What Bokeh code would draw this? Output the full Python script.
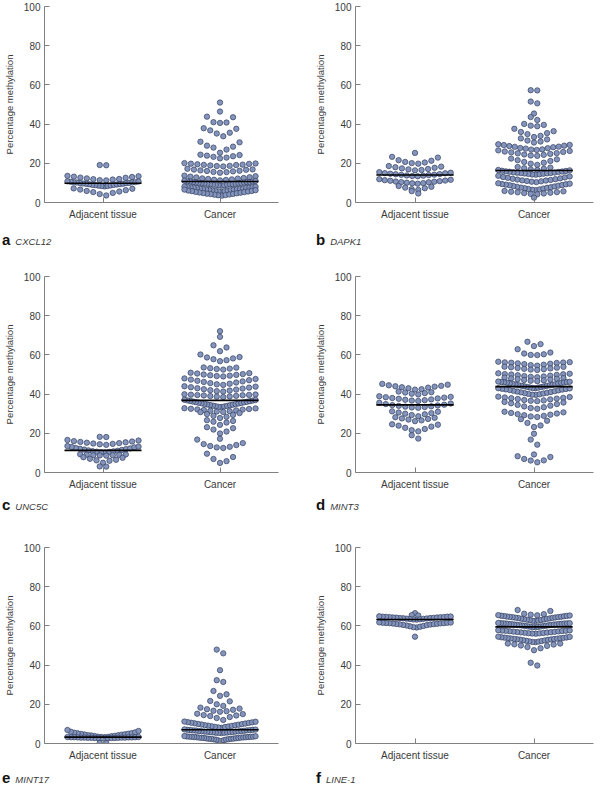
import numpy as np
from bokeh.plotting import figure
from bokeh.models import Range1d, FixedTicker, Div
from bokeh.layouts import column, row
from bokeh.embed import file_html
from bokeh.resources import INLINE

# ---------------- data (percentage methylation, one list per swarm row) ----------------
CATEGORIES = ["Adjacent tissue", "Cancer"]
GENES = ["CXCL12", "DAPK1", "UNC5C", "MINT3", "MINT17", "LINE-1"]
LETTERS = ["a", "b", "c", "d", "e", "f"]
Y_TICKS = [0, 20, 40, 60, 80, 100]
Y_LABEL = "Percentage methylation"

CXCL12_ADJ = [
    [19.0, 19.1],
    [11.3, 11.4, 11.7, 11.9, 12.0, 12.3, 12.6, 12.7, 13.0, 13.2, 13.4, 13.6],
    [8.2, 8.4, 8.4, 8.6, 8.7, 8.9, 9.0, 9.0, 9.2, 9.3, 9.4, 9.6, 9.6, 9.7, 9.9, 10.0,
     10.0, 10.2, 10.3, 10.3, 10.4, 10.6, 10.7, 10.8],
    [3.6, 4.3, 4.9, 5.3, 5.6, 5.9, 6.3, 6.6, 7.0, 7.2],
]
CXCL12_CAN = [
    [51.0], [46.4],
    [40.6, 40.8, 41.0, 43.5, 43.8],
    [33.8, 35.2, 35.6, 36.8, 37.6, 37.9],
    [25.4, 27.0, 28.0, 28.5, 29.0, 30.7, 31.0],
    [22.5, 22.9, 23.3, 23.6, 23.9, 24.2, 24.4],
    [18.4, 18.6, 18.7, 18.9, 19.1, 19.2, 19.3, 19.5, 19.7, 19.8, 19.9, 20.1],
    [15.2, 15.5, 15.6, 15.9, 16.1, 16.2, 16.4, 16.7, 16.8, 16.9, 17.2],
    [11.3, 11.5, 11.6, 11.8, 12.0, 12.2, 12.3, 12.5, 12.8, 12.9, 13.2, 13.4, 13.7],
    [8.6, 8.8, 8.8, 9.0, 9.1, 9.1, 9.3, 9.3, 9.4, 9.6, 9.6, 9.7, 9.9, 9.9, 10.0, 10.1,
     10.2, 10.2, 10.4, 10.4, 10.5, 10.7, 10.7, 10.8, 11.0, 11.1],
    [5.5, 5.7, 5.8, 5.9, 6.1, 6.2, 6.3, 6.4, 6.6, 6.7, 6.8, 6.9, 7.0, 7.1, 7.2, 7.4,
     7.5, 7.6, 7.6, 7.7, 7.8, 7.9, 8.0, 8.1],
    [3.5, 3.7, 3.8, 4.0, 4.1, 4.3, 4.4, 4.5, 4.7, 4.8, 5.0, 5.1, 5.3, 5.4, 5.6, 5.8,
     5.9, 6.1, 6.3, 6.6],
]

DAPK1_ADJ = [
    [25.3],
    [19.8, 20.1, 20.4, 20.7, 21.3, 21.6, 22.9, 23.3],
    [16.4, 16.6, 16.9, 17.1, 17.4, 17.7, 18.0, 18.3, 18.6],
    [13.4, 13.5, 13.7, 13.8, 14.0, 14.1, 14.2, 14.4, 14.5, 14.7, 14.9, 15.0, 15.2, 15.5],
    [9.6, 9.8, 9.9, 10.1, 10.3, 10.4, 10.6, 10.7, 10.9, 11.1, 11.2, 11.4, 11.6, 11.9],
    [6.4, 6.8, 7.3, 7.6, 8.0, 8.4],
    [4.6, 5.8],
]
DAPK1_CAN = [
    [57.2, 57.3],
    [50.6, 51.5],
    [45.4],
    [42.1, 43.6],
    [38.9, 39.2, 39.6, 40.1],
    [33.4, 34.0, 34.9, 35.4, 36.0, 36.4, 37.6],
    [30.6, 31.1, 31.6, 32.2, 32.7],
    [26.8, 27.0, 27.1, 27.5, 27.7, 27.8, 28.2, 28.4, 28.5, 28.8, 29.0, 29.3, 29.4, 29.7],
    [23.8, 24.0, 24.3, 24.5, 24.8, 25.1, 25.2, 25.6, 25.8, 26.0, 26.3, 26.6],
    [19.2, 19.8, 20.3, 20.7, 21.2, 21.6, 22.0, 22.4],
    [16.6, 16.9, 17.2, 17.5, 17.8, 18.1],
    [14.2, 14.3, 14.4, 14.6, 14.7, 14.8, 14.9, 15.0, 15.1, 15.2, 15.3, 15.4, 15.6, 15.7,
     15.8, 15.9, 16.1, 16.2, 16.4, 16.6],
    [10.4, 10.6, 10.8, 11.0, 11.2, 11.3, 11.5, 11.7, 11.9, 12.1, 12.3, 12.6, 12.8, 13.0,
     13.3, 13.6],
    [6.3, 6.5, 6.7, 6.9, 7.1, 7.3, 7.5, 7.6, 7.8, 8.0, 8.2, 8.4, 8.6, 8.8, 8.9, 9.1, 9.3,
     9.4, 9.6, 9.8],
    [4.2, 4.4, 4.6, 4.8, 5.0, 5.2, 5.3, 5.5, 5.7, 5.9],
    [2.5],
]

UNC5C_ADJ = [
    [18.1, 18.2],
    [14.1, 14.4, 14.6, 14.8, 15.0, 15.2, 15.4, 15.6, 15.8, 16.0, 16.3, 16.6],
    [10.2, 10.3, 10.5, 10.6, 10.8, 10.9, 11.1, 11.3, 11.5, 11.7, 11.9, 12.1, 12.3, 12.5,
     12.8, 13.0, 13.2, 13.5],
    [8.6, 8.7, 8.8, 8.8, 9.0, 9.1, 9.2, 9.3],
    [5.0, 6.0, 6.2, 6.5, 7.0, 7.5, 7.8],
    [3.0, 3.1],
]
UNC5C_CAN = [
    [72.1], [69.2],
    [61.9, 63.8, 64.9],
    [56.8, 57.3, 57.8, 58.2, 58.7, 58.9, 60.2],
    [52.5, 52.8, 53.0, 53.2, 53.5, 53.6],
    [49.0, 49.2, 49.4, 49.6, 49.8, 50.0, 50.2, 50.5, 50.7, 50.9],
    [44.7, 45.0, 45.3, 45.6, 45.9, 46.2, 46.5, 46.8, 47.1, 47.4, 47.7, 48.0],
    [41.3, 41.5, 41.8, 42.0, 42.3, 42.5, 42.8, 43.0, 43.3, 43.5, 43.8, 44.0],
    [38.5, 38.7, 38.8, 39.0, 39.1, 39.3, 39.4, 39.5, 39.6, 39.7, 39.8, 39.9],
    [33.4, 33.5, 33.7, 33.8, 34.0, 34.1, 34.3, 34.4, 34.6, 34.7, 34.9, 35.0, 35.2, 35.3,
     35.5, 35.6, 35.8, 35.9, 36.1, 36.2, 36.4, 36.5, 36.7, 36.8, 37.0, 37.1],
    [30.9, 31.1, 31.3, 31.5, 31.7, 31.9, 32.1, 32.2, 32.4, 32.5, 32.7, 32.8],
    [27.8, 28.4, 28.9, 29.4, 29.8, 30.3, 30.8],
    [24.3, 25.5, 25.9, 26.3, 26.7],
    [19.9, 20.9, 21.9, 22.6, 23.1],
    [17.2],
    [12.5, 12.8, 13.1, 13.5, 14.0, 14.5, 15.0, 16.8],
    [4.9, 5.8, 6.9, 7.9, 9.6],
]

MINT3_ADJ = [
    [42.3, 42.5, 43.0, 43.3, 43.5, 43.8, 44.0, 44.2, 44.5, 44.8, 45.2],
    [39.8, 40.2, 40.5, 40.8, 41.0, 41.3],
    [36.5, 36.7, 36.9, 37.1, 37.3, 37.6, 37.8, 38.0, 38.2, 38.4, 38.6, 38.9],
    [33.0, 33.2, 33.4, 33.6, 33.8, 34.0, 34.2, 34.4, 34.6, 34.9, 35.2, 35.6],
    [28.7, 29.3, 29.7, 30.0, 30.3, 30.6, 31.0, 31.2],
    [26.2, 26.6, 27.0, 27.3, 27.6, 27.9, 28.2],
    [21.0, 21.6, 22.2, 22.8, 23.4, 23.9, 24.4, 24.6],
    [17.3, 19.0],
]
MINT3_CAN = [
    [64.5, 65.5, 66.7],
    [59.9, 60.0, 60.3, 60.7, 61.2, 62.9],
    [54.5, 54.8, 55.0, 55.3, 55.5, 55.7, 55.9, 56.0, 56.1, 56.2, 56.3, 56.5],
    [52.3, 52.5, 52.7, 52.9, 53.1, 53.3, 53.5, 53.7, 53.9, 54.0],
    [48.6, 48.8, 49.0, 49.2, 49.4, 49.6, 49.8, 50.0, 50.1, 50.2, 50.4, 50.6],
    [46.6, 46.8, 47.0, 47.2, 47.4, 47.6, 47.8, 48.0, 48.2, 48.4],
    [43.0, 43.1, 43.3, 43.4, 43.6, 43.7, 43.9, 44.0, 44.2, 44.3, 44.5, 44.6, 44.8, 44.9,
     45.1, 45.2, 45.4, 45.5, 45.7, 45.8, 45.9, 46.0, 46.1, 46.2, 46.3, 46.4],
    [39.6, 39.7, 39.9, 40.1, 40.3, 40.5, 40.7, 40.9, 41.1, 41.3, 41.5, 41.7, 41.9, 42.1,
     42.3, 42.4, 42.6, 42.7, 42.9, 43.0],
    [36.4, 36.6, 36.8, 37.0, 37.3, 37.5, 37.7, 37.9, 38.1, 38.3, 38.5, 38.7],
    [32.5, 32.9, 33.3, 33.7, 34.1, 34.5, 34.9, 35.3, 35.7, 36.0],
    [28.3, 28.6, 28.9, 29.2, 29.5, 29.8, 30.1, 30.4, 30.7, 31.0],
    [23.2, 24.0, 25.3, 26.4, 27.2],
    [19.8],
    [14.2, 16.8],
    [9.2],
    [5.2, 6.1, 6.2, 6.9, 7.9, 8.3],
]

MINT17_ADJ = [
    [3.2, 3.3, 3.4, 3.5, 3.7, 3.8, 3.9, 4.1, 4.2, 4.3, 4.5, 4.6, 4.7, 4.9, 5.0, 5.2, 5.3,
     5.5, 5.7, 6.0, 6.4, 6.9],
    [2.6, 2.6, 2.7, 2.7, 2.8, 2.8, 2.8, 2.9, 2.9, 2.9, 3.0, 3.0, 3.0, 3.0, 3.1, 3.1, 3.1,
     3.2, 3.2, 3.2, 3.3, 3.3],
    [0.2, 0.3],
]
MINT17_CAN = [
    [46.0, 47.9],
    [37.4],
    [31.4, 32.3],
    [24.3, 25.1, 26.8],
    [19.2, 20.0, 21.5, 21.7],
    [16.2, 16.5, 16.7, 17.2, 17.5, 17.8, 18.3],
    [12.0, 13.0, 13.5, 14.0, 14.3, 14.5, 15.0, 15.2],
    [8.0, 8.2, 8.4, 8.5, 8.7, 8.8, 9.0, 9.1, 9.3, 9.4, 9.6, 9.7, 9.9, 10.0, 10.2, 10.3,
     10.5, 10.6, 10.8, 10.9, 11.1, 11.2],
    [5.3, 5.4, 5.5, 5.5, 5.6, 5.7, 5.8, 5.8, 5.9, 6.0, 6.1, 6.1, 6.2, 6.3, 6.4, 6.4, 6.5,
     6.6, 6.7, 6.7, 6.8, 6.9, 7.0, 7.0, 7.1, 7.2],
    [1.0, 1.5, 1.7, 1.9, 2.0, 2.1, 2.2, 2.3, 2.4, 2.4, 2.5, 2.6, 2.7, 2.8, 2.8, 2.9, 3.0,
     3.0, 3.1, 3.2, 3.2, 3.3, 3.3, 3.4, 3.4, 3.5, 3.5, 3.6, 3.7, 3.8],
]

LINE1_ADJ = [
    [66.5],
    [65.3, 65.5],
    [63.2, 63.3, 63.4, 63.5, 63.6, 63.7, 63.8, 63.9, 64.0, 64.0, 64.1, 64.2, 64.3, 64.3,
     64.4, 64.5, 64.5, 64.6, 64.7, 64.7, 64.8, 64.9],
    [59.2, 59.4, 59.6, 59.8, 60.0, 60.2, 60.4, 60.5, 60.7, 60.8, 60.9, 61.0, 61.1, 61.2,
     61.3, 61.4, 61.4, 61.5, 61.6, 61.6, 61.7, 61.8],
    [54.5],
]
LINE1_CAN = [
    [65.4, 65.7, 66.0, 66.2, 67.6, 68.1],
    [62.5, 62.6, 62.7, 62.9, 63.0, 63.2, 63.3, 63.4, 63.6, 63.7, 63.8, 64.0, 64.1, 64.2,
     64.3, 64.4, 64.5, 64.6, 64.7, 64.8, 64.9, 65.0, 65.1, 65.2, 65.3, 65.5],
    [59.3, 59.4, 59.5, 59.6, 59.7, 59.8, 59.9, 60.0, 60.1, 60.2, 60.3, 60.4, 60.5, 60.6,
     60.7, 60.7, 60.8, 60.9, 61.0, 61.0, 61.1, 61.2, 61.2, 61.3, 61.3, 61.4, 61.4, 61.5],
    [56.0, 56.1, 56.2, 56.3, 56.4, 56.5, 56.6, 56.7, 56.8, 56.9, 57.0, 57.1, 57.2, 57.3,
     57.4, 57.5, 57.5, 57.6, 57.7, 57.8],
    [51.7, 51.8, 52.0, 52.1, 52.3, 52.4, 52.6, 52.7, 52.9, 53.0, 53.1, 53.2, 53.3, 53.4,
     53.5, 53.6, 53.7, 53.8, 53.9, 54.0, 54.1, 54.2, 54.4, 54.5],
    [47.6, 48.6, 49.2, 49.8, 50.0, 50.5, 50.6, 51.0, 51.0],
    [39.8, 41.2],
]

PANEL_DATA = [
    (CXCL12_ADJ, CXCL12_CAN), (DAPK1_ADJ, DAPK1_CAN),
    (UNC5C_ADJ, UNC5C_CAN), (MINT3_ADJ, MINT3_CAN),
    (MINT17_ADJ, MINT17_CAN), (LINE1_ADJ, LINE1_CAN),
]

# ---------------- layout / style ----------------
COL_BL = [41, 42]
COL_FW = [237, 240]
COL_BR = [33, 9]
ROW_BT = [6, 22, 23]
FRAME_H = 196
ROW_BB = 22
LAB_H = [30, 30, 22]          # height of the strip holding the panel label
LAB_PAD_TOP = [8, 3, 5]
LAB_PAD_LEFT = [2, 5]

FILL = "#8494bd"
EDGE = "#33405f"
AXIS_C = "#808080"
TEXT_C = "#3a3a3a"
FONT = "Liberation Sans"
STEP_PX = 6.6      # horizontal spacing of points in a sparse row
HALF_PX = 36.0     # max half-width of a row (point centres)
MED_HALF_PX = 39.0


def swarm(rows, xc, ppu):
    step0 = STEP_PX / ppu
    half = HALF_PX / ppu
    xs, ys = [], []
    for r in rows:
        vals = sorted(r)
        n = len(vals)
        step = step0 if n <= 1 else min(step0, 2 * half / (n - 1))
        if n % 2:
            slots = [0.0] + [s * k for k in range(1, n // 2 + 1) for s in (1, -1)]
        else:
            slots = [s * (k + 0.5) for k in range(n // 2) for s in (1, -1)]
        for v, sl in zip(vals, slots):
            xs.append(xc + sl * step)
            ys.append(v)
    return xs, ys


items = []
for ri in range(3):
    figs, labs = [], []
    for ci in range(2):
        k = ri * 2 + ci
        adj, can = PANEL_DATA[k]
        W = COL_BL[ci] + COL_FW[ci] + COL_BR[ci]
        H = ROW_BT[ri] + FRAME_H + ROW_BB
        ppu = COL_FW[ci] / 2.0
        p = figure(width=W, height=H, output_backend="svg", toolbar_location=None,
                   x_range=Range1d(0.5, 2.5), y_range=Range1d(0, 100),
                   min_border_left=COL_BL[ci], min_border_right=COL_BR[ci],
                   min_border_top=ROW_BT[ri], min_border_bottom=ROW_BB)
        p.outline_line_color = None
        p.grid.visible = False
        p.background_fill_color = "white"
        p.border_fill_color = "white"

        for gi, rows in enumerate((adj, can)):
            xc = gi + 1
            xs, ys = swarm(rows, xc, ppu)
            p.scatter(xs, ys, size=5.4, fill_color=FILL, line_color=EDGE, line_width=0.7)
            med = float(np.median([v for r in rows for v in r]))
            h = MED_HALF_PX / ppu
            p.segment(x0=[xc - h], y0=[med], x1=[xc + h], y1=[med],
                      line_color="black", line_width=1.6)

        p.xaxis.ticker = FixedTicker(ticks=[1, 2])
        p.xaxis.major_label_overrides = {1: CATEGORIES[0], 2: CATEGORIES[1]}
        p.yaxis.ticker = FixedTicker(ticks=Y_TICKS)
        for ax in (p.xaxis, p.yaxis):
            ax.axis_line_color = AXIS_C
            ax.major_tick_line_color = AXIS_C
            ax.major_tick_in = 5
            ax.major_tick_out = 0
            ax.minor_tick_line_color = None
            ax.major_label_text_font = FONT
            ax.major_label_text_font_size = "10px"
            ax.major_label_text_color = TEXT_C
        p.xaxis.major_label_standoff = 6
        p.yaxis.major_label_standoff = 4
        p.yaxis.axis_label = Y_LABEL
        p.yaxis.axis_label_text_font = FONT
        p.yaxis.axis_label_text_font_size = "9.5px"
        p.yaxis.axis_label_text_font_style = "normal"
        p.yaxis.axis_label_text_color = TEXT_C
        p.yaxis.axis_label_standoff = 6
        figs.append(p)

        html = (
            f'<div style="font-family:\'{FONT}\';line-height:15px;white-space:nowrap;'
            f'padding:{LAB_PAD_TOP[ri]}px 0 0 {LAB_PAD_LEFT[ci]}px;margin:0;">'
            f'<span style="font-weight:bold;font-size:15px;color:#111111;">{LETTERS[k]}</span>'
            f'<span style="font-style:italic;font-size:9.5px;color:{TEXT_C};'
            f'margin-left:5px;">{GENES[k]}</span></div>'
        )
        labs.append(Div(text=html, width=W, height=LAB_H[ri], margin=(0, 0, 0, 0)))
    items.append(row(*figs))
    items.append(row(*labs))

layout = column(*items)
open("out.html", "w").write(file_html(layout, INLINE))
